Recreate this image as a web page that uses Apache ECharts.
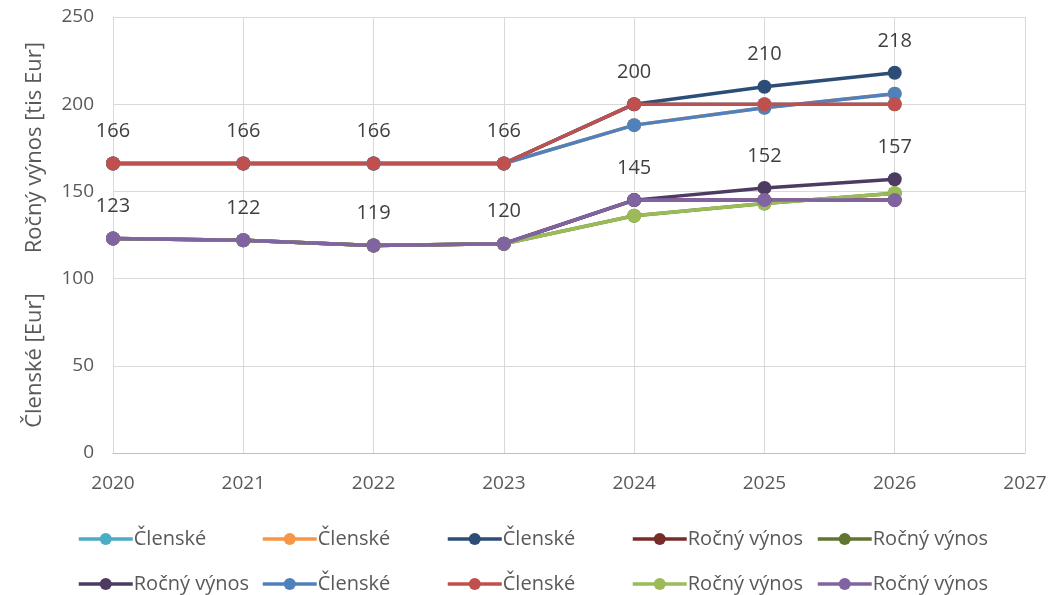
<!DOCTYPE html>
<html><head><meta charset="utf-8">
<script src="https://cdn.jsdelivr.net/npm/echarts@6/dist/echarts.min.js"></script>
<style>html,body{margin:0;padding:0;background:#fff}#c{width:1057px;height:595px}</style>
</head><body><div id="c"></div>
<script>
const years = [2020, 2021, 2022, 2023, 2024, 2025, 2026];
const clenskeCyan   = [166, 166, 166, 166, 200, 200, 200];
const clenskeOrange = [166, 166, 166, 166, 188, 198, 206];
const clenskeDark   = [166, 166, 166, 166, 200, 210, 218];
const vynosDarkRed  = [123, 122, 119, 120, 145, 145, 145];
const vynosOlive    = [123, 122, 119, 120, 136, 143, 149];
const vynosDarkPurp = [123, 122, 119, 120, 145, 152, 157];
const clenskeBlue   = [166, 166, 166, 166, 188, 198, 206];
const clenskeRed    = [166, 166, 166, 166, 200, 200, 200];
const vynosGreen    = [123, 122, 119, 120, 136, 143, 149];
const vynosPurple   = [123, 122, 119, 120, 145, 145, 145];
const yTicks = [0, 50, 100, 150, 200, 250];

const ZW = '\u200b';
const defs = [
  {name: 'Členské', data: clenskeCyan, color: '#4bacc6', label: false, col: 0, row: 0},
  {name: 'Členské', data: clenskeOrange, color: '#f79646', label: false, col: 1, row: 0},
  {name: 'Členské', data: clenskeDark, color: '#2c4d75', label: true, col: 2, row: 0},
  {name: 'Ročný výnos', data: vynosDarkRed, color: '#772c2a', label: false, col: 3, row: 0},
  {name: 'Ročný výnos', data: vynosOlive, color: '#5f7530', label: false, col: 4, row: 0},
  {name: 'Ročný výnos', data: vynosDarkPurp, color: '#4d3b62', label: true, col: 0, row: 1},
  {name: 'Členské', data: clenskeBlue, color: '#4f81bd', label: false, col: 1, row: 1},
  {name: 'Členské', data: clenskeRed, color: '#c0504d', label: false, col: 2, row: 1},
  {name: 'Ročný výnos', data: vynosGreen, color: '#9bbb59', label: false, col: 3, row: 1},
  {name: 'Ročný výnos', data: vynosPurple, color: '#8064a2', label: false, col: 4, row: 1}
];
defs.forEach((d, i) => d.uname = d.name + ZW.repeat(i + 1));

const FONT = 'Open Sans';
const colX = [72, 256, 441, 626, 811];
const rowY = [524, 569];

const series = defs.map(d => ({
  type: 'line',
  name: d.uname,
  data: years.map((y, i) => [y, d.data[i]]),
  symbol: 'circle',
  symbolSize: 14,
  lineStyle: {width: 3.5, color: d.color},
  itemStyle: {color: d.color},
  label: {show: d.label, position: 'top', distance: 15, fontFamily: FONT, fontSize: 20, color: '#404040'},
  emphasis: {disabled: true},
  animation: false
}));

const legends = defs.map(d => ({
  data: [d.uname],
  left: colX[d.col],
  top: rowY[d.row],
  itemWidth: 54,
  itemHeight: 15,
  lineStyle: {width: 3.5},
  textStyle: {fontFamily: FONT, fontSize: 20, color: '#595959', padding: [0,0,0,-4]},
  selectedMode: false
}));

const chart = echarts.init(document.getElementById('c'), null, {renderer: 'canvas'});
chart.setOption({
  animation: false,
  grid: {left: 113, right: 32, top: 17, bottom: 142},
  legend: legends,
  xAxis: {
    type: 'value', min: 2020, max: 2027, interval: 1,
    axisLine: {show: true, lineStyle: {color: '#bfbfbf', width: 1}},
    axisTick: {show: false},
    splitLine: {show: true, lineStyle: {color: '#d9d9d9', width: 1}},
    axisLabel: {fontFamily: FONT, fontSize: 19, color: '#595959', margin: 21, formatter: v => String(v)}
  },
  yAxis: {
    type: 'value', min: yTicks[0], max: yTicks[yTicks.length - 1], interval: 50,
    name: 'Členské [Eur]       Ročný výnos [tis Eur]',
    nameLocation: 'middle', nameGap: 67,
    nameTextStyle: {fontFamily: FONT, fontSize: 22, color: '#595959'},
    axisLine: {show: true, lineStyle: {color: '#d9d9d9'}},
    axisTick: {show: false},
    splitLine: {show: true, lineStyle: {color: '#d9d9d9', width: 1}},
    axisLabel: {fontFamily: FONT, fontSize: 19, color: '#595959', margin: 19}
  },
  series: series
});
</script></body></html>
